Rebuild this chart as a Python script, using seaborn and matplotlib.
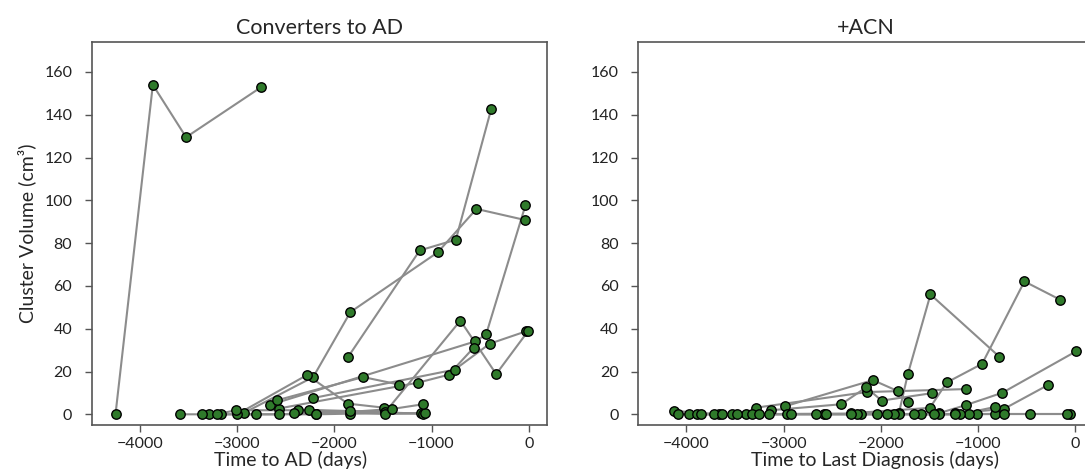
import numpy as np
import pandas as pd
import seaborn as sns
import matplotlib
matplotlib.use('Agg')
import matplotlib.pyplot as plt

# ---- data: (days, volume) per subject ----
ad_subjects = [
    [(-4250, 0), (-3866, 154), (-3524, 129.5), (-2749, 153)],
    [(-1861, 26.6), (-1121, 76.6), (-750, 81.6), (-387, 142.5)],
    [(-2931, 0.6), (-2217, 17.4), (-1834, 47.8), (-936, 75.7), (-538, 96), (-37, 90.8)],
    [(-2999, 0), (-2279, 18.4), (-1861, 5), (-1491, 3.1)],
    [(-2656, 4.5), (-548, 34.1), (-438, 37.4), (-34, 97.7)],
    [(-2571, 2.7), (-1137, 14.8), (-823, 18.5), (-565, 31.2)],
    [(-2594, 6.5), (-1703, 17.4), (-1333, 13.9)],
    [(-2217, 7.6), (-761, 20.9), (-401, 33), (-27, 38.8)],
    [(-2375, 2.2), (-1474, 1.1), (-703, 43.8), (-335, 18.8), (-5, 39)],
    [(-3582, 0), (-3290, 0), (-2810, 0), (-2183, 0), (-1841, 0.3), (-1103, 0.5)],
    [(-3358, 0), (-3163, 0), (-2571, 0), (-1841, 1.4), (-1086, 0.3)],
    [(-3211, 0), (-3013, 1.9), (-2262, 1.9), (-1474, 0.2), (-1062, 0.5)],
    [(-2416, 0.6), (-2190, 0), (-1405, 2.5), (-1086, 4.7)],
]

acn_subjects = [
    [(-4123, 1.6), (-3664, 0), (-3390, 0), (-1815, 0.5), (-1723, 18.8), (-1490, 56), (-784, 27)],
    [(-3284, 3.1), (-2144, 10.4), (-1123, 11.8)],
    [(-2990, 3.7), (-2082, 16), (-1829, 10.9), (-1726, 5.7)],
    [(-3130, 1.9), (-2408, 4.7), (-2151, 12.6), (-1993, 6.4), (-1473, 9.9)],
    [(-2312, 0.5), (-1497, 3.0), (-1322, 14.9), (-959, 23.6), (-524, 62.1), (-158, 53.6)],
    [(-1404, 0.5), (-1127, 4.3), (-750, 10.1), (10, 29.5)],
    [(-1233, 0.5), (-736, 2.5), (-281, 13.7)],
    [(-4082, 0), (-3716, 0), (-3322, 0), (-2962, 0), (-2586, 0), (-2209, 0),
     (-1815, 0), (-1404, 0), (-1010, 0), (-462, 0), (-51, 0)],
    [(-3973, 0), (-3630, 0), (-3253, 0), (-2928, 0), (-2568, 0), (-1866, 0),
     (-1455, 0), (-1096, 0), (-822, 0), (-86, 0)],
    [(-3887, 0), (-3527, 0), (-3151, 0), (-2671, 0), (-2243, 0), (-1935, 0),
     (-1592, 0), (-1182, 0), (-829, 3.4)],
    [(-3853, 0), (-3476, 0), (-2312, 0), (-2045, 0), (-1661, 0), (-1233, 0), (-736, 0.2)],
]

titles = ['Converters to AD', '+ACN']
xlabels = ['Time to AD (days)', 'Time to Last Diagnosis (days)']
xlabel_pos = [0.436, 0.52]


def to_frame(subjects):
    rows = []
    for sid, traj in enumerate(subjects):
        for d, v in traj:
            rows.append({'subject': sid, 'days': d, 'volume': v})
    return pd.DataFrame(rows)


sns.set_style('white')
plt.rcParams['font.family'] = ['Lato', 'DejaVu Sans']

fig = plt.figure(figsize=(10.85, 4.69), dpi=100)
ax1 = fig.add_axes([0.0845, 0.0938, 0.4194, 0.8166])
ax2 = fig.add_axes([0.5883, 0.0938, 0.4194, 0.8166])

for ax, subjects, title, xlabel, xp in zip([ax1, ax2], [ad_subjects, acn_subjects],
                                           titles, xlabels, xlabel_pos):
    df = to_frame(subjects)
    sns.lineplot(data=df, x='days', y='volume', units='subject', estimator=None,
                 sort=False, color='#8c8c8c', linewidth=1.5, ax=ax, legend=False)
    sns.scatterplot(data=df, x='days', y='volume', color='#2f7a2b', edgecolor='black',
                    linewidth=1.0, s=46, ax=ax, zorder=3, legend=False)
    ax.set_xlim(-4495, 185)
    ax.set_ylim(-5, 174)
    ax.set_yticks(range(0, 161, 20))
    ax.set_xticks([-4000, -3000, -2000, -1000, 0])
    ax.set_title(title, fontsize=15.5, pad=6)
    ax.set_xlabel(xlabel, fontsize=14, labelpad=0, x=xp)
    ax.set_ylabel('')
    for sp in ax.spines.values():
        sp.set_color('#555555')
        sp.set_linewidth(1.2)
    ax.tick_params(axis='both', which='both', direction='out', length=5, width=1,
                   color='#555555', labelsize=11.5, labelcolor='#222222',
                   bottom=True, left=True, top=False, right=False)
    ax.tick_params(axis='y', pad=9)

ax1.set_ylabel('Cluster Volume (cm³)', fontsize=14, labelpad=6)

fig.savefig('out.png', dpi=100)
